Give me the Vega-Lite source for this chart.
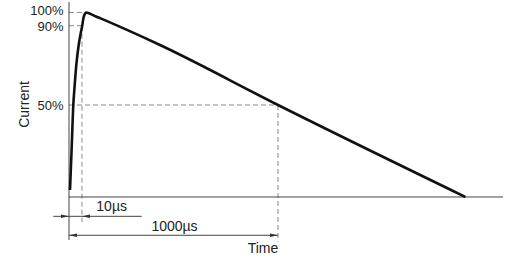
{
  "$schema": "https://vega.github.io/schema/vega-lite/v6.json",
  "width": 434,
  "height": 262,
  "autosize": "none",
  "padding": {"left": 69, "top": 0, "right": 25, "bottom": 0},
  "background": "white",
  "config": {"view": {"stroke": null}, "font": "Liberation Sans"},
  "datasets": {
    "solid": [
      {"x": 0, "x2": 0, "y": 106, "y2": -23.4},
      {"x": 0, "x2": 2076.6, "y": 0, "y2": 0},
      {"x": -75, "x2": 348, "y": -10.5, "y2": -10.5},
      {"x": 0, "x2": 1000, "y": -20.8, "y2": -20.8}
    ],
    "dashed": [
      {"x": 0, "x2": 81.3, "y": 100.3, "y2": 100.3},
      {"x": 0, "x2": 62, "y": 93.1, "y2": 93.1},
      {"x": 0, "x2": 1000, "y": 50, "y2": 50},
      {"x": 62, "x2": 62, "y": 93.1, "y2": -13.6},
      {"x": 1000, "x2": 1000, "y": 50, "y2": -24.3}
    ],
    "curve": [
      {"x": 4.8, "y": 3.8},
      {"x": 12.4, "y": 25.5},
      {"x": 20.6, "y": 50},
      {"x": 27.3, "y": 60.9},
      {"x": 34.9, "y": 71.7},
      {"x": 46.4, "y": 82.6},
      {"x": 57.4, "y": 89.8},
      {"x": 63.2, "y": 93.1},
      {"x": 68.9, "y": 97.1},
      {"x": 74.6, "y": 99.2},
      {"x": 81.3, "y": 100.3},
      {"x": 100.5, "y": 99.6},
      {"x": 129.2, "y": 98.1},
      {"x": 148.3, "y": 97.2},
      {"x": 277.5, "y": 90.8},
      {"x": 435.4, "y": 82.6},
      {"x": 1000, "y": 50},
      {"x": 1897, "y": 0}
    ],
    "arrowRight": [
      {"x": 0, "y": -10.5},
      {"x": 1000, "y": -20.8}
    ],
    "arrowLeft": [
      {"x": 62, "y": -10.5},
      {"x": 0, "y": -20.8}
    ],
    "labels": [
      {"x": 204, "y": -7.45, "text": "10µs"},
      {"x": 504.8, "y": -18.3, "text": "1000µs"},
      {"x": 928, "y": -30.4, "text": "Time"}
    ]
  },
  "encoding": {
    "x": {"field": "x", "type": "quantitative", "scale": {"domain": [0, 2076.6], "nice": false, "zero": false}, "axis": null},
    "y": {
      "field": "y", "type": "quantitative",
      "scale": {"domain": [-35.33, 107.07], "nice": false, "zero": false},
      "axis": {
        "values": [50, 93.1, 100.3],
        "labelExpr": "datum.value == 50 ? '50%' : (datum.value > 96 ? '100%' : '90%')",
        "ticks": false, "domain": false, "grid": false,
        "labelPadding": 6, "labelOverlap": false, "labelBound": false, "labelFlush": false,
        "labelOffset": {"condition": [{"test": "datum.value > 96", "value": -1.5}, {"test": "datum.value > 90 && datum.value < 96", "value": 0.5}], "value": 0},
        "labelFont": "Liberation Sans", "labelFontSize": 13, "labelColor": "#222",
        "title": "Current", "titleFont": "Liberation Sans", "titleFontSize": 14, "titleFontWeight": "normal",
        "titleColor": "#222", "titleX": -41, "titleY": 104, "titleAngle": 270,
        "titleAlign": "center", "titleBaseline": "alphabetic"
      }
    }
  },
  "layer": [
    {
      "data": {"name": "dashed"},
      "mark": {"type": "rule", "color": "#8a8a8a", "strokeWidth": 1, "strokeDash": [5, 3]},
      "encoding": {"x2": {"field": "x2"}, "y2": {"field": "y2"}}
    },
    {
      "data": {"name": "solid"},
      "mark": {"type": "rule", "color": "#444", "strokeWidth": 1},
      "encoding": {"x2": {"field": "x2"}, "y2": {"field": "y2"}}
    },
    {
      "data": {"name": "curve"},
      "mark": {"type": "line", "color": "#111", "strokeWidth": 2.6, "interpolate": "monotone", "strokeJoin": "round"},
      "encoding": {}
    },
    {
      "data": {"name": "arrowRight"},
      "mark": {"type": "point", "shape": "M0,0L-1,-0.22L-1,0.22Z", "filled": true, "size": 256, "color": "#333", "opacity": 1},
      "encoding": {}
    },
    {
      "data": {"name": "arrowLeft"},
      "mark": {"type": "point", "shape": "M0,0L1,-0.22L1,0.22Z", "filled": true, "size": 256, "color": "#333", "opacity": 1},
      "encoding": {}
    },
    {
      "data": {"name": "labels"},
      "mark": {"type": "text", "font": "Liberation Sans", "fontSize": 14, "color": "#222", "align": "center", "baseline": "alphabetic"},
      "encoding": {"text": {"field": "text"}}
    }
  ]
}
